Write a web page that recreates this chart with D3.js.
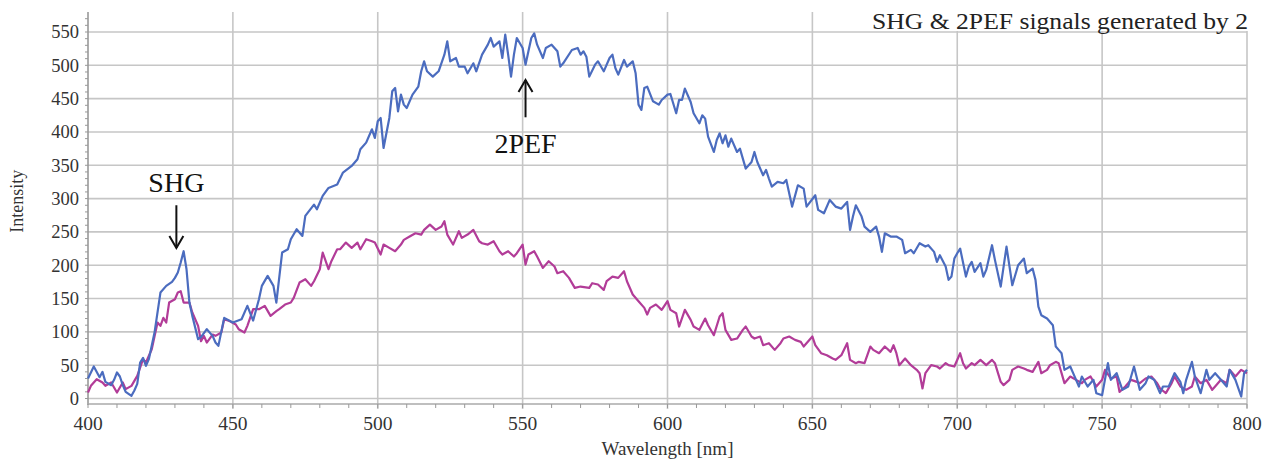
<!DOCTYPE html>
<html><head><meta charset="utf-8">
<script src="https://cdn.jsdelivr.net/npm/d3@7"></script>
<style>body{margin:0;background:#fff}svg{display:block}</style>
</head><body>
<svg id="c" width="1275" height="459"></svg>
<script>
const wlBlue=[400,402,404,405,406,408,409,410,411,412,413,415,416,417,418,419,420,421,423,425,427,429,430,431,432,433,434,435,436,438,439,441,443,444,445,447,450,453,455,457,459,460,462,464,465,467,469,470,472,474,475,478,479,481,483,486,488,491,493,494,496,498,499,500,501,502,504,505,506,507,508,509,510,512,514,515,516,517,519,521,523,524,525,527,528,530,531,533,534,536,538,539,540,542,543,544,545,546,547,548,550,551,552,553,554,555,557,558,560,562,563,564,567,569,570,571,572,573,575,576,578,580,581,582,583,585,586,588,589,590,591,592,593,595,597,598,600,601,603,604,605,606,608,609,611,612,613,614,616,617,618,619,620,621,622,624,625,627,629,630,631,633,634,635,636,638,640,641,643,645,647,648,651,652,654,656,658,660,662,663,664,665,667,668,670,672,673,674,675,677,679,681,682,684,685,687,689,690,692,693,694,696,697,698,699,700,701,703,704,705,706,708,709,710,712,713,715,717,719,721,723,724,726,727,728,729,731,733,734,735,736,737,739,740,742,743,745,747,748,750,752,753,755,757,759,761,763,765,766,768,770,771,773,775,777,778,779,781,782,784,786,787,789,791,793,794,796,798,799,800];
const blueVals=[30,48,32,40,25,20,28,39,33,20,10,4,12,22,54,61,49,59,100,159,169,175,181,189,204,221,194,144,124,89,92,104,94,84,79,121,114,119,139,117,149,169,184,169,144,219,224,239,254,244,274,291,284,304,316,321,339,349,359,374,384,404,391,416,421,376,421,461,466,431,456,441,436,456,468,491,506,491,483,491,516,536,506,511,498,498,488,503,491,516,531,541,528,536,511,546,516,483,516,541,526,501,521,541,548,531,511,526,531,521,498,503,523,526,516,521,513,483,501,506,491,511,516,496,486,508,498,506,488,441,433,466,468,446,441,448,456,457,428,448,448,465,445,428,413,425,420,393,370,388,398,383,395,378,390,370,375,345,355,370,355,335,343,330,318,325,323,328,288,320,315,288,305,283,278,298,288,285,295,253,273,290,273,258,250,258,243,220,248,243,243,238,218,223,218,233,228,230,220,205,215,198,178,183,210,218,225,183,198,205,190,203,183,193,230,208,168,228,170,200,210,188,195,178,138,125,120,110,78,73,68,43,48,38,18,33,18,28,8,5,53,28,38,13,18,48,13,23,33,28,8,18,18,38,25,8,28,55,33,8,43,28,38,28,18,43,28,3,38,43];
const wlMag=[400,401,403,405,406,408,410,412,413,415,417,419,420,422,424,425,426,427,428,430,431,432,433,435,436,438,439,440,441,443,444,446,447,449,451,452,454,455,457,459,461,463,465,466,468,470,471,473,475,477,478,480,481,483,484,486,487,489,491,493,494,496,498,499,501,502,504,506,508,509,511,513,515,516,518,520,522,523,524,526,528,529,531,533,535,536,538,540,542,543,545,547,548,550,551,552,554,555,557,559,561,562,564,566,568,570,573,574,576,578,579,581,583,585,586,588,590,592,593,594,596,598,600,601,603,604,606,608,609,611,613,614,616,618,619,620,622,624,626,627,629,630,632,633,635,637,639,640,642,644,646,647,650,651,653,655,657,658,660,662,663,665,666,668,670,671,673,675,677,678,679,680,682,684,686,687,688,689,691,693,694,696,697,699,701,702,703,705,706,708,710,712,713,715,716,718,719,721,723,724,726,728,729,731,732,734,735,736,737,739,741,743,744,746,748,750,751,753,755,756,758,760,762,763,765,767,769,770,772,774,775,777,779,781,782,784,786,788,789,791,793,794,796,798,800];
const magVals=[9,19,29,24,19,24,9,24,14,19,34,59,54,74,114,109,121,114,144,149,159,161,144,144,129,109,86,94,84,96,94,99,119,116,111,104,99,109,134,134,139,124,131,134,141,144,151,174,179,169,176,194,219,194,206,224,224,234,226,234,224,239,236,234,216,231,226,221,231,238,243,248,246,253,261,253,258,266,246,231,251,241,246,253,236,233,231,236,221,216,221,213,218,231,201,216,221,213,196,206,198,188,191,181,166,168,166,173,171,163,176,183,181,191,176,156,146,136,126,136,141,133,146,133,128,108,133,118,108,103,120,110,95,123,128,103,88,90,103,108,93,90,93,80,83,73,83,90,93,88,85,78,93,80,68,65,60,58,65,83,58,53,55,53,78,73,68,78,70,80,68,50,60,50,43,38,15,38,50,48,45,53,50,48,68,53,45,53,50,58,50,58,53,25,20,28,43,48,45,43,40,55,38,43,50,55,53,38,23,33,28,23,28,33,18,28,43,30,33,10,18,28,25,23,30,33,23,15,8,23,33,18,13,18,33,23,28,13,18,28,23,43,33,43,38];
const yTicks=[0,50,100,150,200,250,300,350,400,450,500,550];
const xTicks=[400,450,500,550,600,650,700,750,800];
const titleText="SHG & 2PEF signals generated by 2";

const svg=d3.select("#c");
const x=d3.scaleLinear().domain([400,800]).range([88,1247]);
const y=d3.scaleLinear().domain([0,550]).range([398.5,32]);
const serif="'Liberation Serif','Times New Roman',serif";
const grid="#c6c6c6";

svg.append("g").selectAll("line").data(yTicks).join("line")
  .attr("x1",x(400)).attr("x2",x(800)).attr("y1",d=>y(d)).attr("y2",d=>y(d))
  .attr("stroke",grid).attr("stroke-width",1.6);
svg.append("g").selectAll("line").data(xTicks.slice(1)).join("line")
  .attr("x1",d=>x(d)).attr("x2",d=>x(d)).attr("y1",12).attr("y2",409)
  .attr("stroke",grid).attr("stroke-width",1.6);

const ya=svg.append("g").attr("transform",`translate(${x(400)},0)`);
ya.append("line").attr("y1",12).attr("y2",405).attr("stroke","#999").attr("stroke-width",1.6);
ya.selectAll("line.m").data(d3.range(0,580,10)).join("line").attr("class","m")
  .attr("x1",-3).attr("x2",0).attr("y1",d=>y(d)).attr("y2",d=>y(d)).attr("stroke","#999");
ya.selectAll("text").data(yTicks).join("text")
  .attr("x",-9).attr("y",d=>y(d)).attr("dy","0.35em").attr("text-anchor","end")
  .attr("font-family",serif).attr("font-size",18.5).attr("fill","#333").text(d=>d);

const xa=svg.append("g");
xa.append("line").attr("x1",x(400)).attr("x2",x(800)).attr("y1",404).attr("y2",404).attr("stroke","#aaa").attr("stroke-width",1.4);
xa.selectAll("line.m").data(d3.range(400,801,10)).join("line").attr("class","m")
  .attr("x1",d=>x(d)).attr("x2",d=>x(d)).attr("y1",404).attr("y2",408).attr("stroke","#999");
xa.selectAll("text").data(xTicks).join("text")
  .attr("x",d=>x(d)).attr("y",430).attr("text-anchor","middle")
  .attr("font-family",serif).attr("font-size",19.5).attr("fill","#333").text(d=>d);
svg.append("text").attr("x",x(600)).attr("y",455).attr("text-anchor","middle")
  .attr("font-family",serif).attr("font-size",19).attr("fill","#333").text("Wavelength [nm]");
svg.append("text").attr("transform",`translate(23,${y(296)}) rotate(-90)`).attr("text-anchor","middle")
  .attr("font-family",serif).attr("font-size",18).attr("fill","#333").text("Intensity");

const line=d3.line().x(d=>x(d[0])).y(d=>y(d[1]));
svg.append("path").datum(wlMag.map((w,i)=>[w,magVals[i]])).attr("d",line)
  .attr("fill","none").attr("stroke","#b23c98").attr("stroke-width",2.2).attr("stroke-linejoin","round");
svg.append("path").datum(wlBlue.map((w,i)=>[w,blueVals[i]])).attr("d",line)
  .attr("fill","none").attr("stroke","#4b6cbf").attr("stroke-width",2.2).attr("stroke-linejoin","round");

svg.append("rect").attr("x",862).attr("y",0).attr("width",413).attr("height",31).attr("fill","#fff");
svg.append("text").attr("x",1248).attr("y",29).attr("text-anchor","end")
  .attr("font-family",serif).attr("font-size",23).attr("fill","#222")
  .attr("textLength",376).attr("lengthAdjust","spacingAndGlyphs").text(titleText);

function arrow(xv,y0v,y1v){
  const g=svg.append("g").attr("stroke","#111").attr("stroke-width",2).attr("fill","none");
  const X=x(xv),Y0=y(y0v),Y1=y(y1v),dir=Y1>Y0?1:-1;
  g.append("line").attr("x1",X).attr("x2",X).attr("y1",Y0).attr("y2",Y1);
  g.append("path").attr("d",`M${X-7},${Y1-dir*12}L${X},${Y1}L${X+7},${Y1-dir*12}`);
}
svg.append("text").attr("x",x(430.5)).attr("y",y(310)).attr("text-anchor","middle")
  .attr("font-family",serif).attr("font-size",28).attr("fill","#111").text("SHG");
arrow(430.5,290,226);
svg.append("text").attr("x",x(551)).attr("y",y(368)).attr("text-anchor","middle")
  .attr("font-family",serif).attr("font-size",28).attr("fill","#111").text("2PEF");
arrow(551,422,478);
</script>
</body></html>
